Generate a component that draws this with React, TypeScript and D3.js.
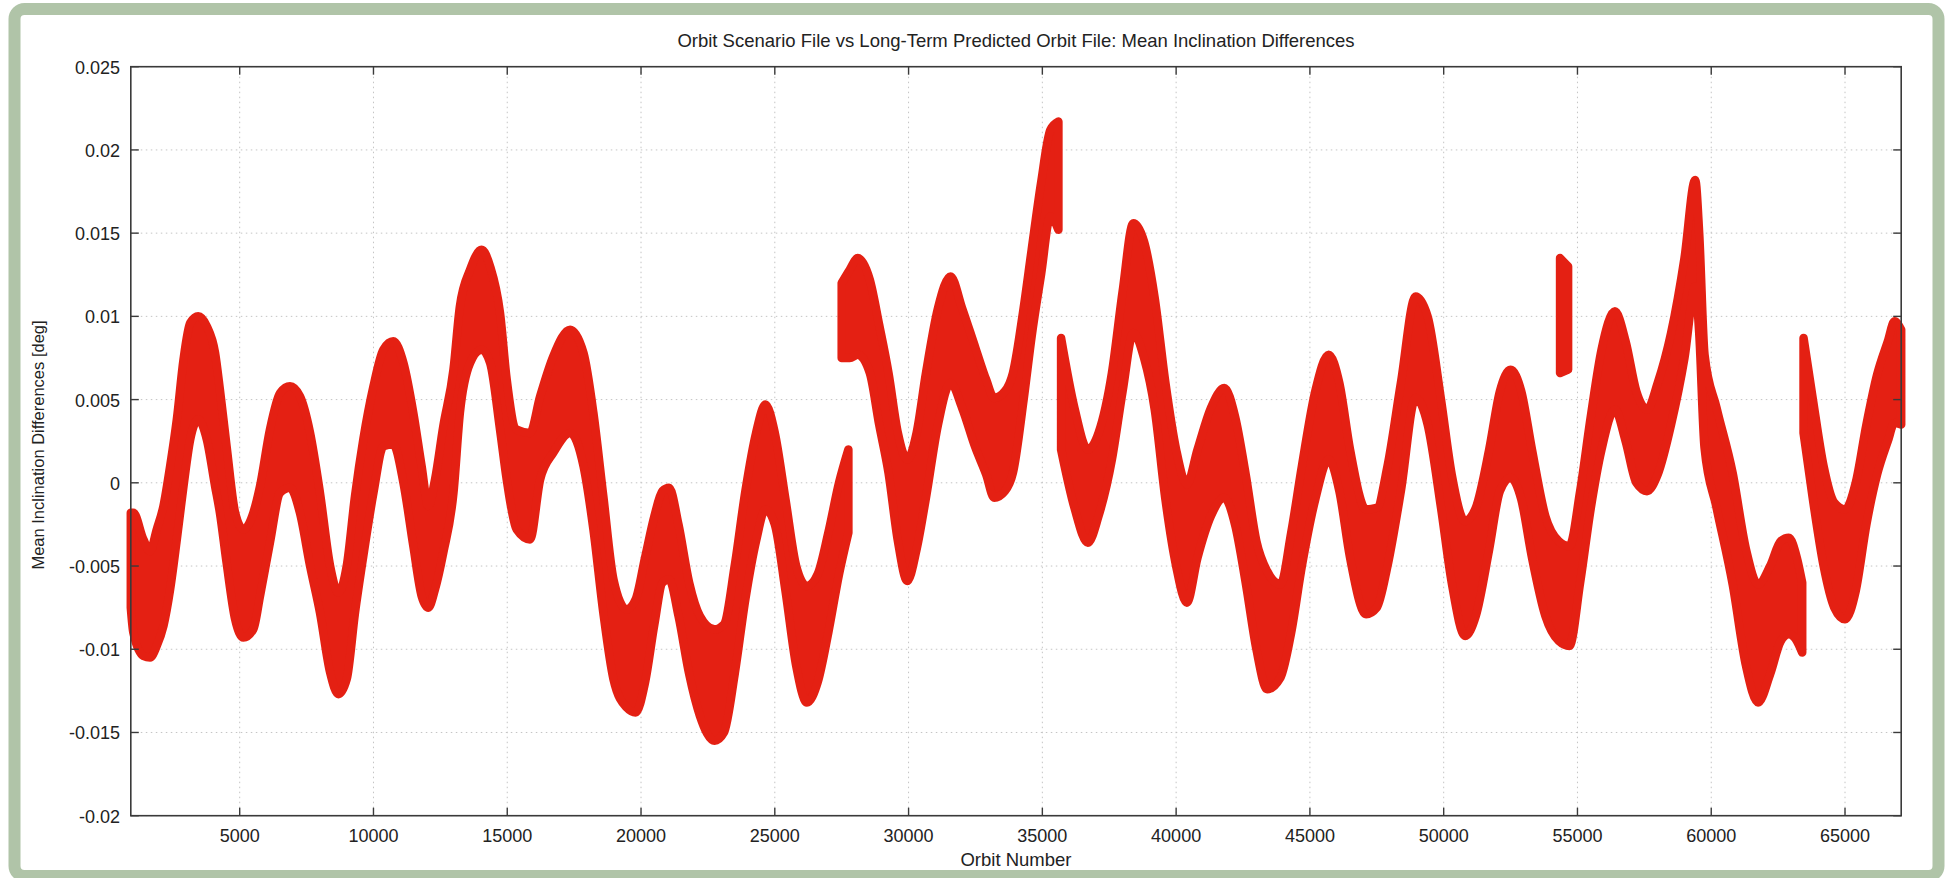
import React from "react";
import * as d3 from "d3";

const W = 1948;
const H = 878;

const titleText = "Orbit Scenario File vs Long-Term Predicted Orbit File: Mean Inclination Differences";
const xLabel = "Orbit Number";
const yLabel = "Mean Inclination Differences [deg]";

const xTicks = [5000, 10000, 15000, 20000, 25000, 30000, 35000, 40000, 45000, 50000, 55000, 60000, 65000];
const yTicks = [-0.02, -0.015, -0.01, -0.005, 0, 0.005, 0.01, 0.015, 0.02, 0.025];
const yTickLabels = ["-0.02", "-0.015", "-0.01", "-0.005", "0", "0.005", "0.01", "0.015", "0.02", "0.025"];

// Segment A
const segAOrbit = [930, 1025, 1400, 1650, 1900, 2150, 2400, 2650, 2900, 3150, 3450, 3770, 4080, 4260, 4510, 4830, 5140, 5510, 5760, 6130, 6510, 6880, 7250, 7630, 8000, 8380, 8690, 9000, 9310, 9620, 10000, 10370, 10740, 11120, 11490, 11800, 12050, 12300, 12610, 12990, 13230, 13610, 14040, 14360, 14730, 14980, 15350, 15850, 16230, 16720, 17350, 17850, 18220, 18590, 18970, 19460, 19800, 20150, 20500, 20800, 21050, 21400, 21800, 22200, 22750, 23100, 23500, 23900, 24300, 24650, 25000, 25400, 25800, 26200, 26600, 27000, 27400, 27750];
const segATop = [-0.0018, -0.0018, -0.0034, -0.0041, -0.0028, -0.0014, 0.001, 0.0038, 0.0074, 0.0096, 0.01, 0.0094, 0.0078, 0.0056, 0.0022, -0.0018, -0.0028, -0.0018, -0.0002, 0.0032, 0.0054, 0.0058, 0.0052, 0.003, -0.0006, -0.005, -0.0066, -0.005, -0.0008, 0.0026, 0.0058, 0.008, 0.0085, 0.0072, 0.0042, 0.001, -0.0014, 0.0002, 0.0034, 0.0068, 0.0106, 0.0128, 0.014, 0.013, 0.0102, 0.0062, 0.0032, 0.003, 0.0052, 0.0076, 0.0092, 0.0078, 0.0042, -0.0008, -0.0058, -0.0076, -0.007, -0.0045, -0.002, -0.0005, -0.0003, -0.0025, -0.006, -0.008, -0.0088, -0.0085, -0.005, -0.0005, 0.003, 0.0047, 0.003, -0.001, -0.005, -0.0062, -0.0055, -0.003, 0.0, 0.002];
const segABottom = [-0.0075, -0.009, -0.0104, -0.0105, -0.0098, -0.0086, -0.0064, -0.0034, -0.0002, 0.0026, 0.0038, 0.0026, -0.0002, -0.0018, -0.0048, -0.0082, -0.0093, -0.0088, -0.0068, -0.0036, -0.0006, -0.0003, -0.0018, -0.005, -0.0078, -0.0114, -0.0127, -0.0118, -0.0078, -0.0044, -0.0006, 0.0022, 0.0023, 0.0, -0.0038, -0.0068, -0.0075, -0.0064, -0.0042, -0.0006, 0.0042, 0.0072, 0.008, 0.0072, 0.0032, 0.0002, -0.0028, -0.0034, 0.0002, 0.0018, 0.003, 0.001, -0.0028, -0.0078, -0.0118, -0.0135, -0.0138, -0.012, -0.0085, -0.006, -0.0058, -0.008, -0.0115, -0.014, -0.0155, -0.015, -0.0115, -0.007, -0.0035, -0.0016, -0.0025, -0.0065, -0.011, -0.0132, -0.012, -0.009, -0.0055, -0.003];

// Segment B
const segBOrbit = [27500, 27800, 28100, 28550, 28900, 29250, 29600, 29950, 30300, 30650, 31100, 31570, 32000, 32500, 32900, 33200, 33600, 33900, 34300, 34600, 34950, 35300, 35600];
const segBTop = [0.012, 0.0128, 0.0135, 0.0122, 0.0095, 0.0066, 0.003, 0.0014, 0.003, 0.0066, 0.0105, 0.0124, 0.0105, 0.0081, 0.0062, 0.0051, 0.0055, 0.0066, 0.0105, 0.014, 0.018, 0.0212, 0.0217];
const segBBottom = [0.0075, 0.0075, 0.0077, 0.0066, 0.0035, 0.0006, -0.0035, -0.0059, -0.004, -0.0009, 0.0035, 0.006, 0.0045, 0.0021, 0.0005, -0.0009, -0.0005, 0.0006, 0.005, 0.0088, 0.0125, 0.016, 0.0152];

// Segment C
const segCOrbit = [35700, 36200, 36700, 37100, 37600, 38000, 38400, 38800, 39200, 39600, 40000, 40400, 40800, 41300, 41800, 42200, 42600, 43000, 43400, 43900, 44300, 44700, 45200, 45700, 46100, 46500, 47100, 47500, 47900, 48400, 48950, 49400, 49900, 50300, 50800, 51200, 51700, 52100, 52500, 52900, 53300, 53800, 54300, 54700, 55100, 55500, 55900, 56400, 56800, 57200, 57600, 58000, 58500, 59000, 59400, 59550, 59750, 60200, 60800, 61300, 61750, 62200, 62600, 62900, 63200, 63400];
const segCTop = [0.0087, 0.0045, 0.002, 0.003, 0.0066, 0.0115, 0.0156, 0.0145, 0.0111, 0.006, 0.002, -0.0001, 0.002, 0.0045, 0.0057, 0.004, 0.0005, -0.0035, -0.0053, -0.0061, -0.003, 0.001, 0.0055, 0.0077, 0.006, 0.002, -0.0016, -0.0015, 0.001, 0.006, 0.0112, 0.01, 0.005, 0.0005, -0.0023, -0.0015, 0.002, 0.0055, 0.0068, 0.0055, 0.002, -0.002, -0.0035, -0.0038, -0.0005, 0.004, 0.008, 0.0103, 0.0085, 0.0055, 0.0044, 0.006, 0.009, 0.0135, 0.0182, 0.015, 0.0077, 0.0045, 0.0006, -0.004, -0.0061, -0.005, -0.0035, -0.0033, -0.0045, -0.006];
const segCBottom = [0.002, -0.0015, -0.0036, -0.002, 0.0014, 0.0055, 0.009, 0.0075, 0.0044, -0.001, -0.005, -0.0072, -0.0045, -0.002, -0.0009, -0.0025, -0.006, -0.01, -0.0124, -0.0117, -0.009, -0.005, -0.001, 0.0014, -0.0005, -0.0045, -0.0079, -0.0075, -0.005, -0.0005, 0.0051, 0.0035, -0.0015, -0.006, -0.0092, -0.008, -0.004, -0.0005, 0.0003, -0.001, -0.0045, -0.008, -0.0095, -0.0098, -0.006, -0.0015, 0.002, 0.0044, 0.0025, 0.0, -0.0005, 0.0005, 0.0035, 0.0075, 0.0118, 0.009, 0.0021, -0.0015, -0.0061, -0.011, -0.0132, -0.0115, -0.0095, -0.0091, -0.0095, -0.0102];

// Short isolated segment
const segSOrbit = [54350, 54650];
const segSTop = [0.0135, 0.013];
const segSBottom = [0.0066, 0.0068];

// Segment D
const segDOrbit = [63450, 63800, 64200, 64600, 65000, 65400, 65800, 66200, 66600, 66850, 67100];
const segDTop = [0.0087, 0.005, 0.001, -0.0012, -0.0016, 0.0, 0.0035, 0.0065, 0.0085, 0.0097, 0.0092];
const segDBottom = [0.003, -0.001, -0.005, -0.0075, -0.0082, -0.0065, -0.0025, 0.0005, 0.0025, 0.0036, 0.0035];

const segments = [
  [segAOrbit, segATop, segABottom],
  [segBOrbit, segBTop, segBBottom],
  [segCOrbit, segCTop, segCBottom],
  [segSOrbit, segSTop, segSBottom],
  [segDOrbit, segDTop, segDBottom],
];

const PL = 130.8, PR = 1901.2, PT = 66.7, PB = 815.7;
const RED = "#e42013";
const FONT = "'Liberation Sans', Arial, Helvetica, sans-serif";

export default function App() {
  const xs = d3.scaleLinear().domain([930, 67100]).range([PL, PR]);
  const ys = d3.scaleLinear().domain([-0.02, 0.025]).range([PB, PT]);

  const area = d3
    .area<{ x: number; t: number; b: number }>()
    .x((d) => xs(d.x))
    .y0((d) => ys(d.b))
    .y1((d) => ys(d.t))
    .curve(d3.curveMonotoneX);

  const paths = segments.map(([o, t, b]) =>
    area(o.map((x, i) => ({ x, t: t[i], b: b[i] }))) || ""
  );

  const axisColor = "#3a3a3a";
  const gridColor = "#c4c4c4";

  return (
    <svg
      width={W}
      height={H}
      style={{ position: "absolute", left: 0, top: 0, background: "#fff" }}
      fontFamily={FONT}
    >
      <rect x={0} y={0} width={W} height={H} fill="#fff" />
      <rect
        x={14.5}
        y={9}
        width={1924}
        height={867}
        rx={10}
        ry={10}
        fill="#fff"
        stroke="#b0c4a8"
        strokeWidth={12}
      />
      {xTicks.map((t) => (
        <line key={"gx" + t} x1={xs(t)} x2={xs(t)} y1={PT} y2={PB} stroke={gridColor} strokeWidth={1} strokeDasharray="1.5,3.5" />
      ))}
      {yTicks.map((t) => (
        <line key={"gy" + t} x1={PL} x2={PR} y1={ys(t)} y2={ys(t)} stroke={gridColor} strokeWidth={1} strokeDasharray="1.5,3.5" />
      ))}
      {paths.map((p, i) => (
        <path key={"s" + i} d={p} fill={RED} stroke={RED} strokeWidth={8.5} strokeLinejoin="round" strokeLinecap="round" />
      ))}
      <rect x={PL} y={PT} width={PR - PL} height={PB - PT} fill="none" stroke={axisColor} strokeWidth={1.6} />
      {xTicks.map((t) => (
        <g key={"tx" + t}>
          <line x1={xs(t)} x2={xs(t)} y1={PB} y2={PB - 8} stroke={axisColor} strokeWidth={1.4} />
          <line x1={xs(t)} x2={xs(t)} y1={PT} y2={PT + 8} stroke={axisColor} strokeWidth={1.4} />
          <text x={xs(t)} y={PB + 26} textAnchor="middle" fontSize={18} fill="#222">
            {String(t)}
          </text>
        </g>
      ))}
      {yTicks.map((t, i) => (
        <g key={"ty" + t}>
          <line x1={PL} x2={PL + 8} y1={ys(t)} y2={ys(t)} stroke={axisColor} strokeWidth={1.4} />
          <line x1={PR} x2={PR - 8} y1={ys(t)} y2={ys(t)} stroke={axisColor} strokeWidth={1.4} />
          <text x={120} y={ys(t) + 7} textAnchor="end" fontSize={18} fill="#222">
            {yTickLabels[i]}
          </text>
        </g>
      ))}
      <text x={(PL + PR) / 2} y={47} textAnchor="middle" fontSize={18.5} fill="#222">
        {titleText}
      </text>
      <text x={(PL + PR) / 2} y={866} textAnchor="middle" fontSize={18.5} fill="#222">
        {xLabel}
      </text>
      <text transform={`translate(44, 445) rotate(-90)`} textAnchor="middle" fontSize={16.5} fill="#222">
        {yLabel}
      </text>
    </svg>
  );
}
